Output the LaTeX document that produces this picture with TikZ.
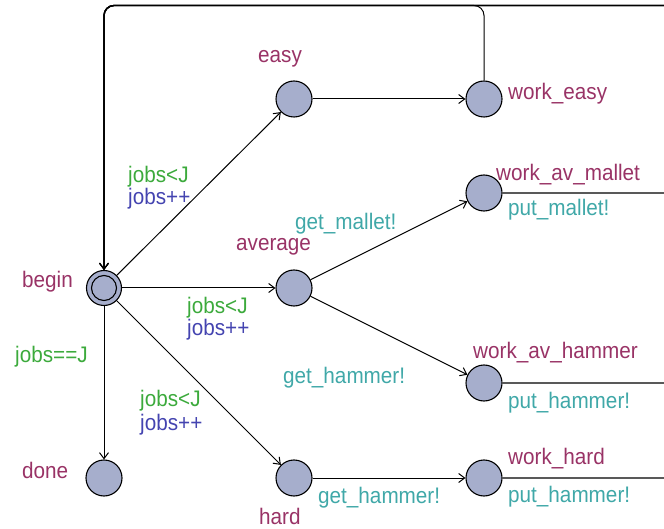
\documentclass[tikz,border=0pt]{standalone}
\usepackage{fontspec}
\setmainfont{Liberation Sans}
\newfontfamily\labfont[FakeStretch=0.92]{Liberation Sans}
\usetikzlibrary{arrows.meta}
\definecolor{locfill}{HTML}{A6AECC}
\definecolor{locname}{HTML}{993366}
\definecolor{guardc}{HTML}{3CAA3C}
\definecolor{updc}{HTML}{4444B0}
\definecolor{syncc}{HTML}{40A8A8}
\tikzset{
  loc/.style={circle, draw, fill=locfill, line width=1.1pt, minimum size=36pt, inner sep=0pt},
  lab/.style={anchor=base west, inner sep=0pt, font=\labfont\fontsize{22.5}{26}\selectfont},
  lname/.style={lab, text=locname},
  lguard/.style={lab, text=guardc},
  lupd/.style={lab, text=updc},
  lsync/.style={lab, text=syncc},
  tip/.style={-{Straight Barb[length=6pt,width=9pt,line width=1pt]}},
  edge/.style={line width=1pt, tip},
  loopedge/.style={line width=1pt, rounded corners=10pt, tip},
  loopthick/.style={loopedge, line width=1.35pt},
}
\begin{document}
\begin{tikzpicture}[x=1pt,y=-1pt]
\useasboundingbox (0,0) rectangle (664,529);
\clip (0,0) rectangle (664,529);
% locations
\node[loc, minimum size=35pt] (begin) at (104,288) {};
\draw[line width=1.1pt] (begin.center) circle (12.5pt);
\node[loc] (easy) at (294,99) {};
\node[loc] (we) at (484,99) {};
\node[loc] (avg) at (294,288) {};
\node[loc] (wam) at (484,193) {};
\node[loc] (wah) at (484,383) {};
\node[loc] (hard) at (294,478) {};
\node[loc] (wh) at (484,478) {};
\node[loc] (done) at (104,478) {};
% coordinates for loops
\coordinate (topL) at (104,5.5);
\coordinate (topM) at (484,5.5);
\coordinate (r1) at (700,193);
\coordinate (r2) at (700,383);
\coordinate (r3) at (700,478);
\coordinate (topR) at (700,5.5);
% loops back to begin
\draw[loopthick] (wam.east) -- (r1) -- (topR) -- (topL) -- (begin.north);
\draw[loopthick] (wah.east) -- (r2) -- (topR) -- (topL) -- (begin.north);
\draw[loopthick] (wh.east) -- (r3) -- (topR) -- (topL) -- (begin.north);
\draw[loopedge] (we.north) -- (topM) -- (topL) -- (begin.north);
% edges
\draw[edge] (begin) -- (easy);
\draw[edge] (easy) -- (we);
\draw[edge] (begin) -- (avg);
\draw[edge] (avg) -- (wam);
\draw[edge] (avg) -- (wah);
\draw[edge] (begin) -- (hard);
\draw[edge] (begin) -- (done);
\draw[edge] (hard) -- (wh);
% location names
\node[lname] (n1) at (258,63) {easy};
\node[lname] (n2) at (508,100) {work\_easy};
\node[lname] (n3) at (236,251) {average};
\node[lname] (n4) at (22,288) {begin};
\node[lname] (n5) at (496,181) {work\_av\_mallet};
\node[lname] (n6) at (473,359) {work\_av\_hammer};
\node[lname] (n7) at (22,478) {done};
\node[lname] (n8) at (259,524) {hard};
\node[lname] (n9) at (508,464) {work\_hard};
% guards and updates
\node[lguard] (g1) at (128,183) {jobs<J};
\node[lupd] (u1) at (128,205) {jobs++};
\node[lguard] (g2) at (187,313) {jobs<J};
\node[lupd] (u2) at (187,335) {jobs++};
\node[lguard] (g3) at (15,362) {jobs==J};
\node[lguard] (g4) at (140,406) {jobs<J};
\node[lupd] (u4) at (140,430) {jobs++};
% syncs
\node[lsync] (s1) at (295,230) {get\_mallet!};
\node[lsync] (s2) at (283,383) {get\_hammer!};
\node[lsync] (s3) at (508,216) {put\_mallet!};
\node[lsync] (s4) at (508,408) {put\_hammer!};
\node[lsync] (s5) at (318,503) {get\_hammer!};
\node[lsync] (s6) at (508,502) {put\_hammer!};
\end{tikzpicture}
\end{document}
